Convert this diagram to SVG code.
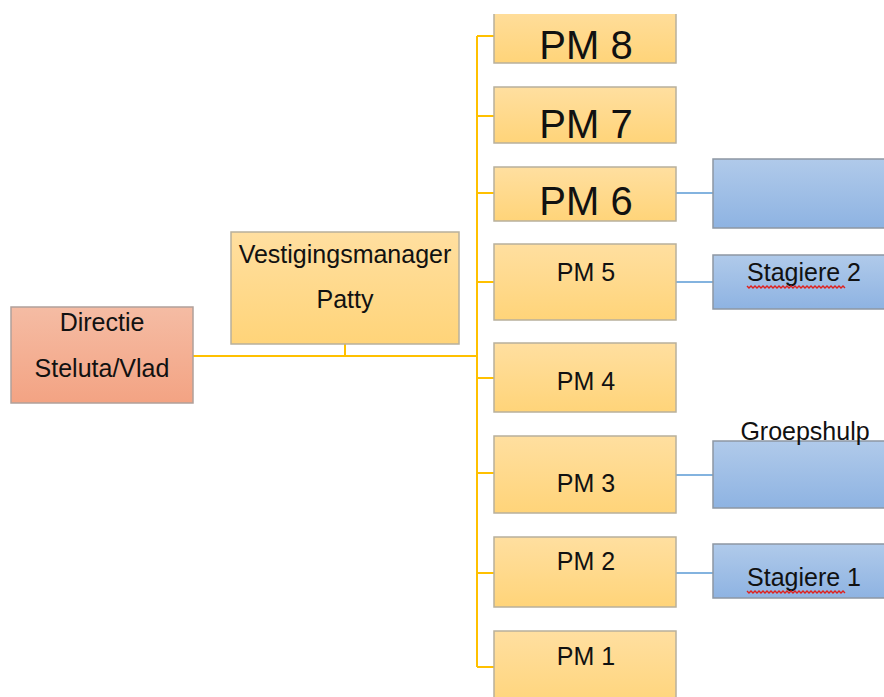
<svg xmlns="http://www.w3.org/2000/svg" width="884" height="697" viewBox="0 0 884 697">
<defs>
<linearGradient id="gO" x1="0" y1="0" x2="0" y2="1"><stop offset="0" stop-color="#FFDFA0"/><stop offset="1" stop-color="#FFD479"/></linearGradient>
<linearGradient id="gR" x1="0" y1="0" x2="0" y2="1"><stop offset="0" stop-color="#F5BCA4"/><stop offset="1" stop-color="#F3A383"/></linearGradient>
<linearGradient id="gB" x1="0" y1="0" x2="0" y2="1"><stop offset="0" stop-color="#B0CAEA"/><stop offset="1" stop-color="#8EB3E2"/></linearGradient>
<clipPath id="cut"><rect x="0" y="14" width="884" height="683"/></clipPath>
</defs>
<style>
.o{fill:url(#gO);stroke:#B8B09C;stroke-width:1.5}
.r{fill:url(#gR);stroke:#B0A09A;stroke-width:1.5}
.b{fill:url(#gB);stroke:#8D97A3;stroke-width:1.5}
text{font-family:"Liberation Sans",Arial,sans-serif;fill:#111;text-anchor:middle}
.s{font-size:25px}
.L{font-size:40px}
.cy{stroke:#FFC000;stroke-width:2;fill:none}
.cb{stroke:#5B9BD5;stroke-width:1.5;fill:none}
.w{stroke:#E0201C;stroke-width:1.4;fill:none}
</style>
<g id="connectors">
<path class="cy" d="M193 356H477M345 344V356M477 36V667M477 36H494M477 116H494M477 193H494M477 282H494M477 378H494M477 473H494M477 573H494M477 667H494"/>
<path class="cb" d="M676 193H713M676 282H713M676 475H713M676 573H713"/>
</g>
<g id="directie"><rect class="r" x="11" y="307" width="182" height="96"/><text class="s" x="102" y="331">Directie</text><text class="s" x="102" y="377">Steluta/Vlad</text></g>
<g id="vestigingsmanager"><rect class="o" x="231" y="232" width="228" height="112"/><text class="s" x="345" y="263">Vestigingsmanager</text><text class="s" x="345" y="308">Patty</text></g>
<g id="pm8" clip-path="url(#cut)"><rect class="o" x="494" y="4" width="182" height="59"/><text class="L" x="586" y="59">PM 8</text></g>
<g id="pm7"><rect class="o" x="494" y="87" width="182" height="56"/><text class="L" x="586" y="138">PM 7</text></g>
<g id="pm6"><rect class="o" x="494" y="167" width="182" height="54"/><text class="L" x="586" y="215">PM 6</text></g>
<g id="pm5"><rect class="o" x="494" y="244" width="182" height="76"/><text class="s" x="586" y="281">PM 5</text></g>
<g id="pm4"><rect class="o" x="494" y="343" width="182" height="69"/><text class="s" x="586" y="390">PM 4</text></g>
<g id="pm3"><rect class="o" x="494" y="436" width="182" height="77"/><text class="s" x="586" y="492">PM 3</text></g>
<g id="pm2"><rect class="o" x="494" y="537" width="182" height="70"/><text class="s" x="586" y="570">PM 2</text></g>
<g id="pm1"><rect class="o" x="494" y="631" width="182" height="80"/><text class="s" x="586" y="665">PM 1</text></g>
<g id="blue6"><rect class="b" x="713" y="159" width="182" height="69"/></g>
<g id="stagiere2"><rect class="b" x="713" y="255" width="182" height="54"/><text class="s" x="804" y="281">Stagiere 2</text><path class="w" d="M747 286l2 2 2-2 2 2 2-2 2 2 2-2 2 2 2-2 2 2 2-2 2 2 2-2 2 2 2-2 2 2 2-2 2 2 2-2 2 2 2-2 2 2 2-2 2 2 2-2 2 2 2-2 2 2 2-2 2 2 2-2 2 2 2-2 2 2 2-2 2 2 2-2 2 2 2-2 2 2 2-2 2 2 2-2 2 2 2-2 2 2 2-2 2 2 2-2 2 2"/></g>
<g id="groepshulp"><rect class="b" x="713" y="441" width="182" height="67"/><text class="s" x="805" y="440">Groepshulp</text></g>
<g id="stagiere1"><rect class="b" x="713" y="544" width="182" height="54"/><text class="s" x="804" y="586">Stagiere 1</text><path class="w" d="M747 591l2 2 2-2 2 2 2-2 2 2 2-2 2 2 2-2 2 2 2-2 2 2 2-2 2 2 2-2 2 2 2-2 2 2 2-2 2 2 2-2 2 2 2-2 2 2 2-2 2 2 2-2 2 2 2-2 2 2 2-2 2 2 2-2 2 2 2-2 2 2 2-2 2 2 2-2 2 2 2-2 2 2 2-2 2 2 2-2 2 2 2-2 2 2 2-2 2 2"/></g>
</svg>
